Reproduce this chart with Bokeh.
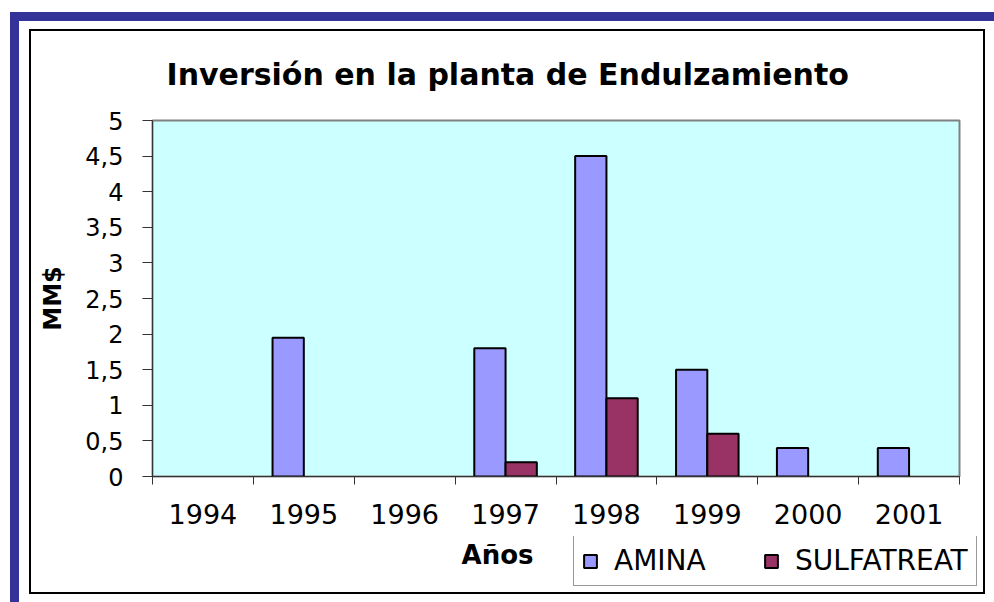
from bokeh.plotting import figure
from bokeh.layouts import column
from bokeh.models import (ColumnDataSource, Range1d, FixedTicker, Title,
                          Legend, LegendItem, Label)
from bokeh.transform import dodge
from bokeh.embed import file_html
from bokeh.resources import INLINE

# ---- data ----
years = ["1994", "1995", "1996", "1997", "1998", "1999", "2000", "2001"]
amina = [0, 1.95, 0, 1.8, 4.5, 1.5, 0.4, 0.4]
sulfatreat = [0, 0, 0, 0.2, 1.1, 0.6, 0, 0]
y_ticks = [0, 0.5, 1, 1.5, 2, 2.5, 3, 3.5, 4, 4.5, 5]
y_tick_labels = ["0", "0,5", "1", "1,5", "2", "2,5", "3", "3,5", "4", "4,5", "5"]
series_names = ["AMINA", "SULFATREAT"]
title_text = "Inversión en la planta de Endulzamiento"
x_title = "Años"
y_title = "MM$"

FONT = "DejaVu Sans"
C_AMINA = "#9999FF"
C_SULF = "#993366"
FRAME_BLUE = "#333399"

idx = list(range(len(years)))

def nonzero(vals):
    xs = [i for i, v in zip(idx, vals) if v > 0]
    ys = [v for v in vals if v > 0]
    return ColumnDataSource(dict(x=xs, top=ys))

src_a = nonzero(amina)
src_s = nonzero(sulfatreat)

W = 994
H_MAIN, H_FOOT = 536, 66

# ---------------- main chart ----------------
p = figure(width=W, height=H_MAIN, output_backend="svg", toolbar_location=None,
           x_range=Range1d(-0.5, len(years) - 0.5), y_range=Range1d(0, 5),
           min_border_left=152, min_border_right=35, min_border_top=120,
           min_border_bottom=60)
p.title.visible = False
p.background_fill_color = "#CCFFFF"
p.border_fill_alpha = 0
p.outline_line_color = "#808080"
p.outline_line_width = 2
p.xgrid.visible = False
p.ygrid.visible = False

bar_a = dict(fill_color=C_AMINA, line_color="black", line_width=2)
bar_s = dict(fill_color=C_SULF, line_color="black", line_width=2)

p.vbar(x=dodge("x", -0.155, range=p.x_range), top="top", width=0.31, bottom=0,
       source=src_a, **bar_a)
p.vbar(x=dodge("x", 0.155, range=p.x_range), top="top", width=0.31, bottom=0,
       source=src_s, **bar_s)

# y axis
yax = p.yaxis[0]
yax.ticker = FixedTicker(ticks=y_ticks, minor_ticks=[])
yax.major_label_overrides = {t: l for t, l in zip(y_ticks, y_tick_labels)}
yax.major_label_text_font = FONT
yax.major_label_text_font_size = "24px"
yax.major_label_text_color = "black"
yax.major_label_standoff = 19
yax.major_tick_out = 10
yax.major_tick_in = 0
yax.major_tick_line_color = "#333333"
yax.axis_line_color = "#333333"
yax.axis_line_width = 1
yax.axis_label = y_title
yax.axis_label_text_font = FONT
yax.axis_label_text_font_size = "24px"
yax.axis_label_text_font_style = "bold"
yax.axis_label_text_color = "black"
yax.axis_label_standoff = 15

# x axis
xax = p.xaxis[0]
xax.ticker = FixedTicker(ticks=idx, minor_ticks=[i - 0.5 for i in idx] + [len(idx) - 0.5])
xax.major_label_overrides = {i: y for i, y in zip(idx, years)}
xax.major_label_text_font = FONT
xax.major_label_text_font_size = "27px"
xax.major_label_text_color = "black"
xax.major_label_standoff = 19
xax.major_tick_out = 0
xax.major_tick_in = 0
xax.minor_tick_out = 8
xax.minor_tick_in = 0
xax.minor_tick_line_color = "#333333"
xax.axis_line_color = "#333333"
xax.axis_line_width = 1

# chart title
p.add_layout(Title(text=title_text, text_font=FONT, text_font_size="30px",
                   text_font_style="bold", text_color="black", align="left",
                   offset=14, vertical_align="top", standoff=54), "above")

# ---------------- footer: axis title + legend ----------------
f = figure(width=W, height=H_FOOT, output_backend="svg", toolbar_location=None,
           x_range=Range1d(0, 1), y_range=Range1d(0, 1),
           min_border=0, x_axis_type=None, y_axis_type=None)
X0 = 152
if "frame_align" in f.properties():
    f.frame_align = False
    p.frame_align = False
    X0 = 0
f.title.visible = False
f.background_fill_alpha = 0
f.border_fill_alpha = 0
f.outline_line_color = None
f.xgrid.visible = False
f.ygrid.visible = False

# hidden copies of the series, used only to draw the legend swatches
la = f.vbar(x="x", top="top", width=0.31, bottom=0, source=src_a, visible=False, **bar_a)
ls = f.vbar(x="x", top="top", width=0.31, bottom=0, source=src_s, visible=False, **bar_s)

f.add_layout(Label(x=497 - X0, y=48, x_units="screen", y_units="screen", text=x_title,
                   text_font=FONT, text_font_size="26px", text_font_style="bold",
                   text_align="center", text_baseline="alphabetic", text_color="black"))

legend = Legend(items=[LegendItem(label=series_names[0], renderers=[la]),
                       LegendItem(label=series_names[1], renderers=[ls])],
                location=(573 - X0, 16), orientation="horizontal",
                label_text_font=FONT, label_text_font_size="28px",
                label_text_color="black",
                glyph_width=16, glyph_height=16, label_standoff=16,
                label_width=100, spacing=49, padding=8, margin=0,
                border_line_color="#333333", border_line_width=1,
                background_fill_color="white", background_fill_alpha=1)
if "inactive_fill_alpha" in legend.properties():
    legend.inactive_fill_alpha = 0
f.add_layout(legend, "center")

# decorative page frame (blue band top/left, black box) drawn as CSS background
blue = "linear-gradient(%s,%s)" % (FRAME_BLUE, FRAME_BLUE)
black = "linear-gradient(#000000,#000000)"
layout = column(p, f, spacing=0, styles={
    "background-color": "white",
    "background-image": ", ".join([blue, blue, black, black, black, black]),
    "background-position": "10px 12px, 10px 12px, 29px 29px, 29px 592px, 29px 29px, 983px 29px",
    "background-size": "984px 9px, 9px 590px, 956px 2px, 956px 2px, 2px 565px, 2px 565px",
    "background-repeat": "no-repeat",
})

open("out.html", "w").write(file_html(layout, INLINE))
